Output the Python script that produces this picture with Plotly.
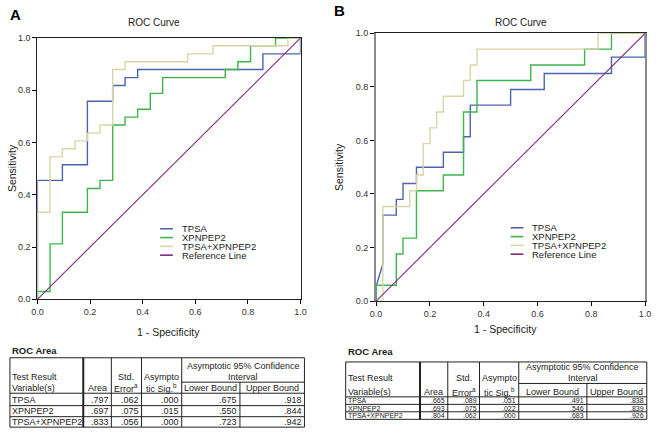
import plotly.graph_objects as go

W, H = 657, 438

SERIES = ["TPSA", "XPNPEP2", "TPSA+XPNPEP2"]
REF_NAME = "Reference Line"
COLORS = ["#4f63ad", "#3cb54a", "#d9d5a7"]
REF_COLOR = "#7d2a84"

# ROC coordinates (1 - specificity, sensitivity), panel A
A_TPSA_X = [0, 0, 0.095, 0.095, 0.190, 0.190, 0.286, 0.286, 0.333, 0.333,
            0.381, 0.381, 0.857, 0.857, 1.0, 1.0]
A_TPSA_Y = [0, 0.455, 0.455, 0.515, 0.515, 0.758, 0.758, 0.818, 0.818, 0.848,
            0.848, 0.879, 0.879, 0.939, 0.939, 1.0]
A_XPN_X = [0, 0, 0.048, 0.048, 0.095, 0.095, 0.190, 0.190, 0.238, 0.238,
           0.286, 0.286, 0.333, 0.333, 0.381, 0.381, 0.429, 0.429, 0.476, 0.476,
           0.714, 0.714, 0.762, 0.762, 0.810, 0.810, 0.905, 0.905, 1.0]
A_XPN_Y = [0, 0.030, 0.030, 0.212, 0.212, 0.333, 0.333, 0.424, 0.424, 0.455,
           0.455, 0.667, 0.667, 0.697, 0.697, 0.727, 0.727, 0.788, 0.788, 0.848,
           0.848, 0.879, 0.879, 0.909, 0.909, 0.970, 0.970, 1.0, 1.0]
A_COMB_X = [0, 0, 0.048, 0.048, 0.095, 0.095, 0.143, 0.143, 0.190, 0.190,
            0.238, 0.238, 0.286, 0.286, 0.333, 0.333, 0.571, 0.571, 0.667, 0.667,
            0.952, 0.952, 1.0]
A_COMB_Y = [0, 0.333, 0.333, 0.545, 0.545, 0.576, 0.576, 0.606, 0.606, 0.636,
            0.636, 0.667, 0.667, 0.879, 0.879, 0.909, 0.909, 0.939, 0.939, 0.970,
            0.970, 1.0, 1.0]

# panel B
B_TPSA_X = [0, 0, 0.025, 0.025, 0.075, 0.075, 0.100, 0.100, 0.150, 0.150,
            0.250, 0.250, 0.325, 0.325, 0.350, 0.350, 0.500, 0.500, 0.625, 0.625,
            0.875, 0.875, 1.0, 1.0]
B_TPSA_Y = [0, 0.055, 0.139, 0.321, 0.321, 0.380, 0.380, 0.439, 0.439, 0.500,
            0.500, 0.556, 0.556, 0.614, 0.614, 0.732, 0.732, 0.790, 0.790, 0.850,
            0.850, 0.911, 0.911, 1.0]
B_XPN_X = [0, 0, 0.075, 0.075, 0.100, 0.100, 0.150, 0.150, 0.250, 0.250,
           0.325, 0.325, 0.375, 0.375, 0.575, 0.575, 0.775, 0.775, 0.875, 0.875, 1.0]
B_XPN_Y = [0, 0.059, 0.059, 0.176, 0.176, 0.235, 0.235, 0.412, 0.412, 0.471,
           0.471, 0.706, 0.706, 0.824, 0.824, 0.882, 0.882, 0.941, 0.941, 1.0, 1.0]
B_COMB_X = [0, 0.025, 0.025, 0.125, 0.125, 0.150, 0.150, 0.175, 0.175, 0.200,
            0.200, 0.225, 0.225, 0.250, 0.250, 0.325, 0.325, 0.350, 0.350, 0.375,
            0.375, 0.825, 0.825, 1.0]
B_COMB_Y = [0, 0, 0.353, 0.353, 0.412, 0.412, 0.471, 0.471, 0.588, 0.588,
            0.647, 0.647, 0.706, 0.706, 0.765, 0.765, 0.824, 0.824, 0.882, 0.882,
            0.941, 0.941, 1.0, 1.0]

REF_X = [0, 1]
REF_Y = [0, 1]
TICKS = [0.0, 0.2, 0.4, 0.6, 0.8, 1.0]

# ROC Area tables
A_AREA = [0.797, 0.697, 0.833]
A_STDERR = [0.062, 0.075, 0.056]
A_SIG = [0.000, 0.015, 0.000]
A_LOWER = [0.675, 0.550, 0.723]
A_UPPER = [0.918, 0.844, 0.942]
B_AREA = [0.665, 0.693, 0.804]
B_STDERR = [0.089, 0.075, 0.062]
B_SIG = [0.051, 0.022, 0.000]
B_LOWER = [0.491, 0.546, 0.683]
B_UPPER = [0.838, 0.839, 0.926]

FONT = "Liberation Sans, Arial, sans-serif"
INK = "#222222"


def X(px):
    return px / W


def Y(py):
    return 1 - py / H


def fmt(v):
    return f"{v:.3f}".lstrip("0")


fig = go.Figure()
shapes = []
ann = []

panels = [
    dict(xa="x", ya="y", curves=[(A_TPSA_X, A_TPSA_Y), (A_XPN_X, A_XPN_Y),
                                  (A_COMB_X, A_COMB_Y)]),
    dict(xa="x2", ya="y2", curves=[(B_TPSA_X, B_TPSA_Y), (B_XPN_X, B_XPN_Y),
                                    (B_COMB_X, B_COMB_Y)]),
]
for p in panels:
    for name, col, (xs, ys) in zip(SERIES, COLORS, p["curves"]):
        fig.add_trace(go.Scatter(x=xs, y=ys, mode="lines", name=name,
                                 line=dict(color=col, width=1.4),
                                 xaxis=p["xa"], yaxis=p["ya"], showlegend=False))
    fig.add_trace(go.Scatter(x=REF_X, y=REF_Y, mode="lines", name=REF_NAME,
                             line=dict(color=REF_COLOR, width=1.1),
                             xaxis=p["xa"], yaxis=p["ya"], showlegend=False))

# hand-drawn legends (short SPSS-style swatches)
for lx, ly in [(157, 229), (514, 228)]:
    for i, (name, col) in enumerate(zip(SERIES + [REF_NAME], COLORS + [REF_COLOR])):
        yy = ly + i * 9
        shapes.append(dict(type="line", xref="paper", yref="paper",
                           x0=X(lx), x1=X(lx + 13), y0=Y(yy), y1=Y(yy),
                           line=dict(color=col, width=1.6)))
        ann.append(dict(text=name, x=X(lx + 21), y=Y(yy), xanchor="left",
                        yanchor="middle", font=dict(size=9.5, color=INK)))

# panel labels, titles, axis titles
ann += [
    dict(text="<b>A</b>", x=X(3), y=Y(10), xanchor="left",
         font=dict(size=15, color="#000")),
    dict(text="<b>B</b>", x=X(333), y=Y(6), xanchor="left",
         font=dict(size=15, color="#000")),
    dict(text="ROC Curve", x=X(151), y=Y(18), font=dict(size=10, color=INK)),
    dict(text="ROC Curve", x=X(525), y=Y(18), font=dict(size=10, color=INK)),
    dict(text="Sensitivity", x=X(6), y=Y(167), textangle=-90,
         font=dict(size=10.5, color=INK)),
    dict(text="Sensitivity", x=X(339), y=Y(166), textangle=-90,
         font=dict(size=10.5, color=INK)),
    dict(text="1 - Specificity", x=X(166), y=Y(335), font=dict(size=10.5, color=INK)),
    dict(text="1 - Specificity", x=X(509), y=Y(332), font=dict(size=10.5, color=INK)),
]


def table(cols, top, mid, hbot, rlines, bot, hy, title_y, vals, hsize, dsize):
    left, right = cols[0], cols[-1]
    ln = dict(color=INK, width=1)

    def hline(y, x0, x1):
        shapes.append(dict(type="line", xref="paper", yref="paper",
                           x0=X(x0), x1=X(x1), y0=Y(y), y1=Y(y), line=ln))

    def vline(x, y0, y1, w=1):
        shapes.append(dict(type="line", xref="paper", yref="paper",
                           x0=X(x), x1=X(x), y0=Y(y0), y1=Y(y1),
                           line=dict(color=INK, width=w)))

    hline(top, left, right)
    hline(hbot, left, right)
    for r in rlines:
        hline(r, left, right)
    hline(bot, left, right)
    hline(mid, cols[4], right)
    for i, c in enumerate(cols):
        if i == 5:
            vline(c, mid, bot)
        else:
            vline(c, top, bot, 2 if i == 1 else 1)

    def t(text, x, y, anchor="center", size=hsize, bold=False):
        ann.append(dict(text=f"<b>{text}</b>" if bold else text, x=X(x), y=Y(y),
                        xanchor=anchor, yanchor="middle",
                        font=dict(size=size, color=INK)))

    t("ROC Area", left + 1, title_y, "left", 9.5, True)
    c = lambda a, b: (cols[a] + cols[b]) / 2
    t("Test Result", left + 1, hy[1], "left")
    t("Variable(s)", left + 1, hy[2], "left")
    t("Area", c(1, 2), hy[2])
    t("Std.", c(2, 3), hy[1])
    t("Error<sup>a</sup>", c(2, 3), hy[2])
    t("Asympto", c(3, 4), hy[1])
    t("tic Sig.<sup>b</sup>", c(3, 4), hy[2])
    t("Asymptotic 95% Confidence", c(4, 6), hy[0])
    t("Interval", c(4, 6), hy[1])
    t("Lower Bound", c(4, 5), hy[2])
    t("Upper Bound", c(5, 6), hy[2])

    edges = [hbot] + list(rlines) + [bot]
    for r, name in enumerate(SERIES):
        yy = (edges[r] + edges[r + 1]) / 2 + 0.3
        t(name, left + 1, yy, "left", dsize)
        for k, arr in enumerate(vals):
            t(fmt(arr[r]), cols[k + 2] - 1.5, yy, "right", dsize)


table([4, 78.7, 107.3, 138, 179, 238.3, 304], 361, 386, 397.3, [410, 421.3], 432,
      [369.3, 380.7, 392.3], 353.7,
      [A_AREA, A_STDERR, A_SIG, A_LOWER, A_UPPER], 9, 9)
table([346, 421.7, 450, 482.3, 522.3, 591.7, 652.7], 365.3, 387.3, 401,
      [408.7, 416.3], 424, [370.7, 381.7, 395.7], 354.7,
      [B_AREA, B_STDERR, B_SIG, B_LOWER, B_UPPER], 9, 7)

for a in ann:
    a.setdefault("xref", "paper")
    a.setdefault("yref", "paper")
    a.setdefault("xanchor", "center")
    a.setdefault("yanchor", "middle")
    a["showarrow"] = False
    a["borderpad"] = 0

axis_common = dict(range=[0, 1], tickvals=TICKS, tickformat=".1f",
                   ticks="outside", ticklen=4, tickcolor="#000",
                   showgrid=False, zeroline=False, showline=True, mirror=True,
                   tickfont=dict(size=9, color="#333"))

fig.update_layout(
    width=W, height=H,
    margin=dict(l=0, r=0, t=0, b=0),
    paper_bgcolor="white", plot_bgcolor="white",
    font=dict(family=FONT, color=INK),
    xaxis=dict(domain=[X(32), X(300)], anchor="y", linecolor="#222",
               linewidth=1, **axis_common),
    yaxis=dict(domain=[Y(301.2), Y(33.7)], anchor="x", linecolor="#222",
               linewidth=1, **axis_common),
    xaxis2=dict(domain=[X(377), X(651)], anchor="y2", linecolor="#222",
                linewidth=1, **axis_common),
    yaxis2=dict(domain=[Y(303), Y(29)], anchor="x2", linecolor="#8a8a8a",
                linewidth=2, **axis_common),
    shapes=shapes,
    annotations=ann,
)

# the page's default 8px body margin would push the figure off the window
fig.write_html("out.html", config={"displayModeBar": False},
               post_script="document.body.style.margin='0';")
